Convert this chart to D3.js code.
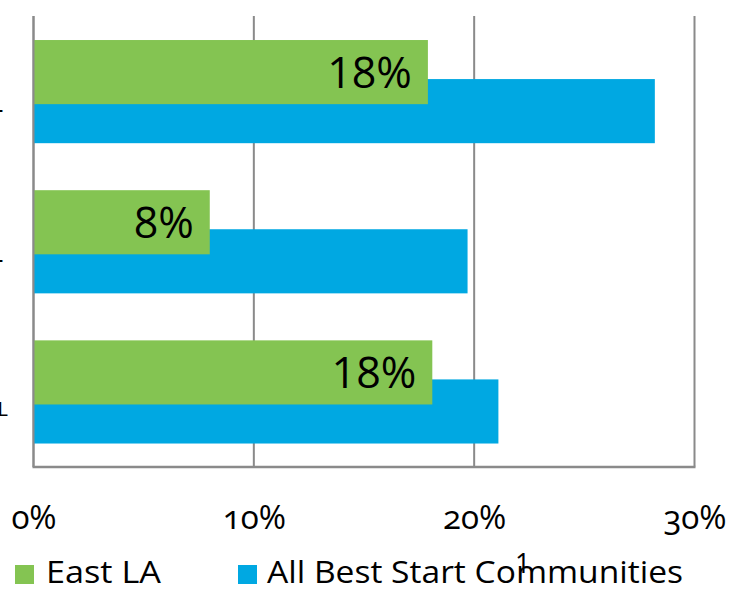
<!DOCTYPE html>
<html>
<head>
<meta charset="utf-8">
<script src="https://cdn.jsdelivr.net/npm/d3@7"></script>
<style>
  html, body { margin: 0; padding: 0; background: #fff; }
  svg { display: block; }
  text { font-family: "Open Sans", sans-serif; fill: #000; }
</style>
</head>
<body>
<svg id="chart" width="736" height="592"></svg>
<script>
// ---- data ----
const categories = ["-", "-", "L"];            // clipped category labels (only last glyph visible)
const seriesNames = ["East LA", "All Best Start Communities"];
const eastLA = [17.9, 8.0, 18.1];
const allBestStart = [28.2, 19.7, 21.1];
const dataLabels = ["18%", "8%", "18%"];
const xTicks = [0, 10, 20, 30];
const xTickLabels = ["0%", "10%", "20%", "30%"];
const colors = ["#84C452", "#00A8E2"];

// ---- layout ----
const svg = d3.select("#chart");
const x = d3.scaleLinear().domain([0, 30]).range([33.5, 694.5]);
const y = d3.scaleBand().domain(d3.range(categories.length)).range([16, 466.5]).paddingInner(0).paddingOuter(0);
const bw = y.bandwidth();

// gridlines
svg.append("g").selectAll("line").data(xTicks).join("line")
  .attr("x1", d => x(d)).attr("x2", d => x(d))
  .attr("y1", 16).attr("y2", 466.5)
  .attr("stroke", "#8a8a8a").attr("stroke-width", 2);

// blue bars (behind)
svg.append("g").selectAll("rect").data(allBestStart).join("rect")
  .attr("x", x(0)).attr("y", (d, i) => y(i) + bw * 0.42)
  .attr("width", d => x(d) - x(0)).attr("height", bw * 0.427)
  .attr("fill", colors[1]);

// green bars (front)
svg.append("g").selectAll("rect").data(eastLA).join("rect")
  .attr("x", x(0)).attr("y", (d, i) => y(i) + bw * 0.16)
  .attr("width", d => x(d) - x(0)).attr("height", bw * 0.427)
  .attr("fill", colors[0]);

// data labels
svg.append("g").selectAll("text").data(eastLA).join("text")
  .attr("x", d => x(d) - 16)
  .attr("y", (d, i) => y(i) + bw * 0.16 + bw * 0.427 / 2)
  .attr("dy", "0.36em")
  .attr("text-anchor", "end")
  .style("font-size", "43px")
  .text((d, i) => dataLabels[i]);

// left axis line
svg.append("line").attr("x1", 33.5).attr("x2", 33.5).attr("y1", 16).attr("y2", 467)
  .attr("stroke", "#8a8a8a").attr("stroke-width", 2);
// bottom axis line
svg.append("line").attr("x1", 32.5).attr("x2", 695.5).attr("y1", 467).attr("y2", 467)
  .attr("stroke", "#8a8a8a").attr("stroke-width", 2.5);

// category labels (clipped at left edge)
svg.append("g").selectAll("text").data(categories).join("text")
  .attr("x", (d, i) => i === 2 ? -2.5 : 3.5)
  .attr("y", (d, i) => i === 2 ? y(i) + bw / 2 + 25 : y(i) + bw / 2 + 27)
  .attr("text-anchor", (d, i) => i === 2 ? "start" : "end")
  .style("font-size", (d, i) => i === 2 ? "20px" : "28px")
  .text(d => d);

// x tick labels
const xAxis = d3.axisBottom(x).tickValues(xTicks).tickFormat((d, i) => xTickLabels[i]).tickSize(0).tickPadding(0);
const gx = svg.append("g").attr("transform", "translate(0,529)").call(xAxis);
gx.select(".domain").remove();
gx.selectAll("text")
  .attr("dy", 0).attr("y", 0)
  .style("font-family", "'Open Sans', sans-serif")
  .style("font-size", "33px")
  .style("font-variant-numeric", "oldstyle-nums")
  .style("fill", "#000");

// legend
const legend = svg.append("g");
const legX = [15, 238];
const legTX = [46, 267];
const legW = [115, 416];
seriesNames.forEach((name, i) => {
  legend.append("rect").attr("x", legX[i]).attr("y", 565).attr("width", 19).attr("height", 19).attr("fill", colors[i]);
  legend.append("text").attr("x", legTX[i]).attr("y", 583)
    .attr("textLength", legW[i]).attr("lengthAdjust", "spacingAndGlyphs")
    .style("font-size", "31px").text(name);
});

// stray footnote mark
svg.append("text").attr("x", 515).attr("y", 573).style("font-size", "27px").text("1");
</script>
</body>
</html>
